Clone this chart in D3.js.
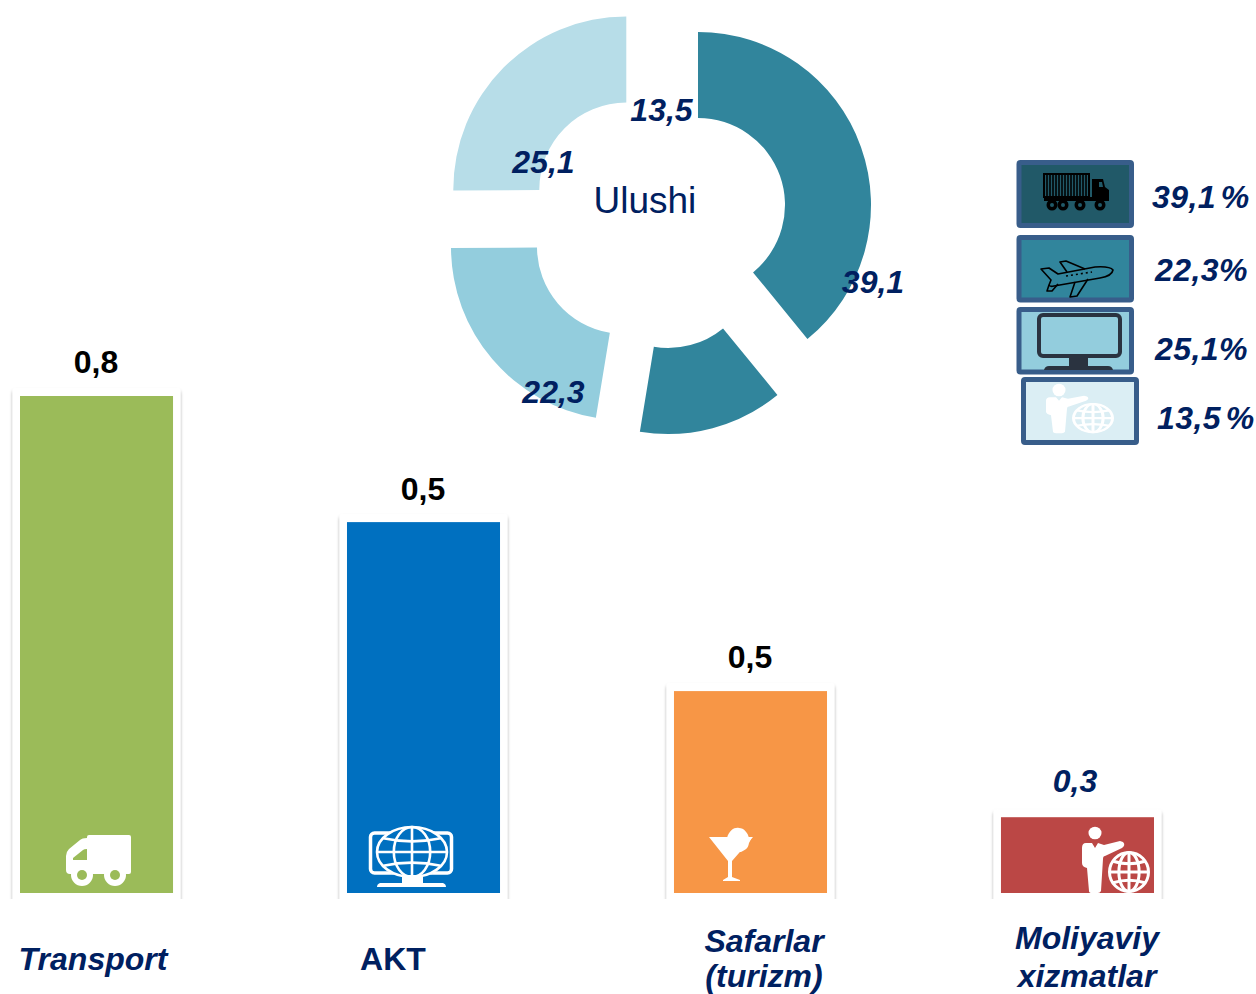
<!DOCTYPE html>
<html><head><meta charset="utf-8">
<script src="https://cdn.jsdelivr.net/npm/d3@7"></script>
<style>
html,body{margin:0;padding:0;background:#fff;overflow:hidden}
text{font-family:"Liberation Sans",Arial,sans-serif}
</style></head><body>
<svg id="c" width="1256" height="994"></svg>
<script>
// ---------- data ----------
const categories = ["Transport","AKT","Safarlar (turizm)","Moliyaviy xizmatlar"];
const barValues = [0.8,0.597,0.325,0.122];
const barLabels = ["0,8","0,5","0,5","0,3"];
const categoryLines = [["Transport"],["AKT"],["Safarlar","(turizm)"],["Moliyaviy","xizmatlar"]];
const shares = [39.1,13.5,22.3,25.1];
const shareLabels = ["39,1","13,5","22,3","25,1"];
const legendLabels = ["39,1 %","22,3%","25,1%","13,5 %"];
// ---------- style / layout ----------
const NAVY="#002060";
const barColors=["#9bbb59","#0070c0","#f79646","#bb4745"];
const sliceColors=["#31859c","#31859c","#93cddd","#b7dde8"];
const sliceCentres=[[698,205],[668,261],[624,247],[626.3,189.5]];
const shareLabelPos=[[873,293],[661.5,121],[553.5,403],[543.5,173]];
const valueLabelPos=[[96,373],[423,500],[750,668],[1075,792]];
const catLabelPos=[[[93,970]],[[393,970]],[[764,952],[764,987]],[[1087,949],[1087,987]]];
const legendFills=["#215968","#31859c","#93cddd","#dbeef4"];
const legendBoxes=[[1016.5,160,117.5,68],[1016.5,235,117.5,67.5],[1016.5,307,117.5,67.5],[1021,377,118,68]];
const legendPos=[[1152,208],[1155,281],[1155,360],[1157,429]];

const svg=d3.select("#c");
const defs=svg.append("defs");
const f=defs.append("filter").attr("id","sh").attr("x","-10%").attr("y","-10%").attr("width","120%").attr("height","120%");
f.append("feDropShadow").attr("dx",0).attr("dy",2.5).attr("stdDeviation",1.8).attr("flood-color","#000").attr("flood-opacity",.36);
defs.append("clipPath").attr("id","clip").append("rect").attr("x",0).attr("y",0).attr("width",1256).attr("height",899);

// ---------- bars ----------
const x=d3.scaleBand().domain(categories).range([20,1154]).paddingInner(.532);
const y=d3.scaleLinear().domain([0,0.8]).range([893,396]);
const gb=svg.append("g");
const cards=gb.append("g").attr("clip-path","url(#clip)");
categories.forEach((c,i)=>{
  cards.append("rect").attr("x",x(c)-7.5).attr("y",y(barValues[i])-8)
    .attr("width",x.bandwidth()+15).attr("height",y(0)-y(barValues[i])+30).attr("rx",3)
    .attr("fill","#fff").attr("filter","url(#sh)");
});
gb.selectAll(".bar").data(categories).join("rect").attr("class","bar")
  .attr("x",d=>x(d)).attr("width",x.bandwidth())
  .attr("y",(d,i)=>y(barValues[i])).attr("height",(d,i)=>y(0)-y(barValues[i]))
  .attr("fill",(d,i)=>barColors[i]);

barLabels.forEach((t,i)=>{
  const last=i===3;
  svg.append("text").attr("x",valueLabelPos[i][0]).attr("y",valueLabelPos[i][1])
    .attr("text-anchor","middle").attr("font-size",32).attr("font-weight","bold")
    .attr("font-style",last?"italic":"normal").attr("fill",last?NAVY:"#000").text(t);
});
categoryLines.forEach((ls,i)=>ls.forEach((t,j)=>{
  svg.append("text").attr("x",catLabelPos[i][j][0]).attr("y",catLabelPos[i][j][1])
    .attr("text-anchor","middle").attr("font-size",32).attr("font-weight","bold")
    .attr("font-style",i===1?"normal":"italic").attr("fill",NAVY).text(t);
}));

// ---------- bar icons ----------
function globe(g,cx,cy,rx,ry,col,w){
  const n=g.append("g").attr("fill","none").attr("stroke",col).attr("stroke-width",w);
  n.append("ellipse").attr("cx",cx).attr("cy",cy).attr("rx",rx).attr("ry",ry);
  n.append("ellipse").attr("cx",cx).attr("cy",cy).attr("rx",rx*.52).attr("ry",ry);
  n.append("line").attr("x1",cx).attr("x2",cx).attr("y1",cy-ry).attr("y2",cy+ry);
  n.append("line").attr("x1",cx-rx).attr("x2",cx+rx).attr("y1",cy).attr("y2",cy);
  n.append("path").attr("d",`M${cx-rx*.82} ${cy-ry*.55}Q${cx} ${cy-ry*.3} ${cx+rx*.82} ${cy-ry*.55}`);
  n.append("path").attr("d",`M${cx-rx*.82} ${cy+ry*.55}Q${cx} ${cy+ry*.3} ${cx+rx*.82} ${cy+ry*.55}`);
}
// truck
const tk=svg.append("g").attr("fill","#fff");
tk.append("path").attr("d","M87 837q0-2 2-2h40q2 0 2 2v35q0 2-2 2H70q-4 0-4-4v-14q0-4 3-7l11-9q2-2 7-2z");
tk.append("path").attr("d","M87 849v11H73v-2l10-8q1-1 4-1z").attr("fill","#9bbb59");
[82,115].forEach(cx=>{
  tk.append("circle").attr("cx",cx).attr("cy",875).attr("r",11);
  tk.append("circle").attr("cx",cx).attr("cy",875).attr("r",5).attr("fill","#9bbb59");
});
// monitor + globe
const mg=svg.append("g");
mg.append("rect").attr("x",370.5).attr("y",833).attr("width",81).attr("height",40).attr("rx",4).attr("fill","none").attr("stroke","#fff").attr("stroke-width",3.5);
mg.append("ellipse").attr("cx",412).attr("cy",852).attr("rx",35).attr("ry",26).attr("fill","#0070c0");
globe(mg,412,852,35,25,"#fff",2.6);
mg.append("path").attr("d","M402 875h21v8h20q3 1 3 4h-69q0-3 3-4h22z").attr("fill","#fff");
// cocktail
const ck=svg.append("g").attr("fill","#fff");
ck.append("path").attr("d","M709 837H753L732 861V877L740 880V881H723V880L728 877V861Z");
ck.append("path").attr("d","M727 838C729 830 735 827 739 828C744 828 748 833 749 838L752 837L749 843C748 849 745 850 741 852L733 852Z");
// person + globe
function person(g,ox,oy,sy,bg){
  const p=g.append("g").attr("transform",`translate(${ox},${oy}) scale(1,${sy})`).attr("fill","#fff");
  p.append("ellipse").attr("cx",0).attr("cy",0).attr("rx",6.5).attr("ry",7/sy*.9);
  p.append("path").attr("d","M-9 10Q-13 10-13 15V30Q-13 34-8 35L-6 58Q-6 60-3 60L3 60Q5 60 6 58L8 26Q8 23 10 23L27 15Q31 12 28 9L25 8L9 12L3 10L0 15L-3 10Z");
  p.append("circle").attr("cx",34).attr("cy",39).attr("r",21).attr("fill",bg);
  globe(p,34,39,19.5,19.5,"#fff",3);
}
person(svg,1095,833,1,"#bb4745");

// ---------- donut ----------
const pie=d3.pie().sort(null).value(d=>d)(shares);
const arc=d3.arc().innerRadius(87).outerRadius(173);
svg.append("g").selectAll("path").data(pie).join("path")
  .attr("transform",(d,i)=>`translate(${sliceCentres[i]})`)
  .attr("d",arc).attr("fill",(d,i)=>sliceColors[i]);
shareLabels.forEach((t,i)=>{
  svg.append("text").attr("x",shareLabelPos[i][0]).attr("y",shareLabelPos[i][1]).attr("text-anchor","middle")
   .attr("font-size",32).attr("font-weight","bold").attr("font-style","italic").attr("fill",NAVY).text(t);
});
svg.append("text").attr("x",593.5).attr("y",213).attr("font-size",37).attr("fill",NAVY).text("Ulushi");

// ---------- legend ----------
legendBoxes.forEach((b,i)=>{
  svg.append("rect").attr("x",b[0]+2.5).attr("y",b[1]+2.5).attr("width",b[2]-5).attr("height",b[3]-5)
    .attr("rx",1.5).attr("fill",legendFills[i]).attr("stroke","#385d8a").attr("stroke-width",5);
  svg.append("text").attr("x",legendPos[i][0]).attr("y",legendPos[i][1]).attr("font-size",32)
    .attr("letter-spacing",".4").attr("word-spacing","-4.4")
    .attr("font-weight","bold").attr("font-style","italic").attr("fill",NAVY).text(legendLabels[i]);
});
// legend truck
const lt=svg.append("g").attr("fill","#000");
lt.append("rect").attr("x",1044).attr("y",174).attr("width",45).attr("height",23).attr("fill","none").attr("stroke","#000").attr("stroke-width",2);
d3.range(1047,1088,3).forEach(v=>lt.append("line").attr("x1",v).attr("x2",v).attr("y1",175).attr("y2",196).attr("stroke","#000").attr("stroke-width",1.6));
lt.append("path").attr("d","M1092 179H1103L1105 187 1109 190V200H1092Z");
lt.append("path").attr("d","M1099 182h3l1 5h-4z").attr("fill","#215968");
lt.append("rect").attr("x",1044).attr("y",197).attr("width",65).attr("height",4);
[1052,1063,1080,1100].forEach(cx=>{
  lt.append("circle").attr("cx",cx).attr("cy",205).attr("r",5.5);
  lt.append("circle").attr("cx",cx).attr("cy",205).attr("r",2).attr("fill","#215968");
});
// legend plane
const pl=svg.append("g").attr("fill","none").attr("stroke","#000").attr("stroke-width",1.6).attr("stroke-linejoin","round");
pl.append("path").attr("d","M1041 269L1049 268 1058 274 1095 267Q1110 266 1113 270Q1112 276 1100 278L1054 286Q1050 287 1049 285L1051 280Z");
pl.append("path").attr("d","M1067 272L1060 262 1066 261 1085 269");
pl.append("path").attr("d","M1088 279L1077 296 1070 297 1075 282");
pl.append("path").attr("d","M1049 285L1047 291 1052 291 1058 284");
pl.append("path").attr("d","M1066 276L1092 272").attr("stroke-dasharray","2 3");
// legend monitor
const lm=svg.append("g");
lm.append("rect").attr("x",1039).attr("y",315).attr("width",81).attr("height",41).attr("rx",4).attr("fill","none").attr("stroke","#2a3340").attr("stroke-width",4);
lm.append("path").attr("d","M1069 358H1088V366H1108Q1112 366 1113 370H1044Q1045 366 1049 366H1069Z").attr("fill","#2a3340");
// legend person
person(svg,1059,390,.72,"#dbeef4");
</script>
</body></html>
